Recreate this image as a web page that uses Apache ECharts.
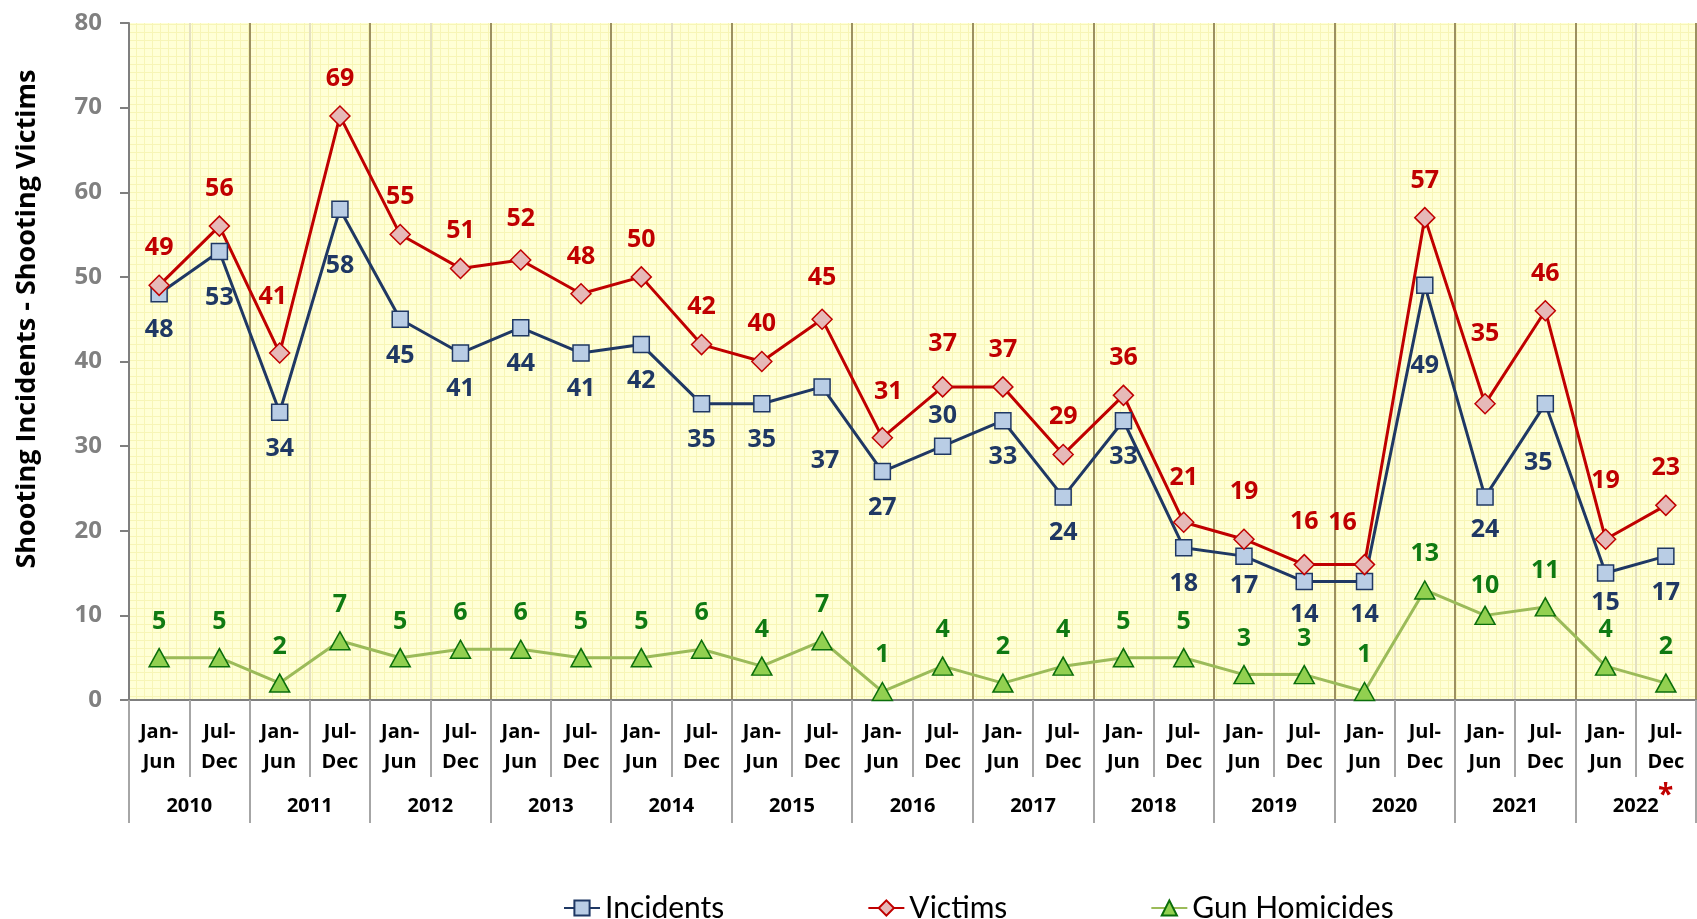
<!DOCTYPE html>
<html>
<head>
<meta charset="utf-8">
<script src="https://cdn.jsdelivr.net/npm/echarts@6/dist/echarts.min.js"></script>
<style>
html,body{margin:0;padding:0;background:#fff;}
#chart{width:1697px;height:919px;}
</style>
</head>
<body>
<div id="chart"></div>
<script>
const halves = ['Jan-\nJun','Jul-\nDec','Jan-\nJun','Jul-\nDec','Jan-\nJun','Jul-\nDec','Jan-\nJun','Jul-\nDec','Jan-\nJun','Jul-\nDec','Jan-\nJun','Jul-\nDec','Jan-\nJun','Jul-\nDec','Jan-\nJun','Jul-\nDec','Jan-\nJun','Jul-\nDec','Jan-\nJun','Jul-\nDec','Jan-\nJun','Jul-\nDec','Jan-\nJun','Jul-\nDec','Jan-\nJun','Jul-\nDec'];
const years = ['2010','2011','2012','2013','2014','2015','2016','2017','2018','2019','2020','2021','2022'];
const incidents = [48,53,34,58,45,41,44,41,42,35,35,37,27,30,33,24,33,18,17,14,14,49,24,35,15,17];
const victims = [49,56,41,69,55,51,52,48,50,42,40,45,31,37,37,29,36,21,19,16,16,57,35,46,19,23];
const gunHomicides = [5,5,2,7,5,6,6,5,5,6,4,7,1,4,2,4,5,5,3,3,1,13,10,11,4,2];
const yAxisTitle = 'Shooting Incidents - Shooting Victims';

// label layout tweaks (index -> [distance, dx, position])
const incLabelLayout = {1:[25,0],3:[35,0],11:[53,3],13:[9,0,'top'],18:[8,0],19:[12,0],20:[12,0],21:[59,0],22:[12,0],23:[38,-7],24:[9,0]};
const vicLabelLayout = {2:[33,-7],6:[18,0],11:[18,0],12:[23,6],13:[20,0],17:[21,0],18:[24,0],19:[19,0],20:[18,-22],22:[47,0],24:[35,0]};
const gunLabelLayout = {22:[7,0]};

const labelFont = {fontFamily:'Open Sans', fontWeight:'bold', fontSize:25};

function withLayout(values, layout, defDist, defPos){
  return values.map((v,i)=>{
    const l = layout[i] || [defDist,0];
    return {value:v, label:{distance:l[0], offset:[l[1],0], position:l[2]||defPos}};
  });
}

// background pattern
const pc = document.createElement('canvas');
pc.width = 8; pc.height = 8;
const ctx = pc.getContext('2d');
ctx.fillStyle = '#ffffd6'; ctx.fillRect(0,0,8,8);
ctx.fillStyle = '#f7f5b6'; ctx.fillRect(0,0,8,1); ctx.fillRect(0,0,1,8);

const chart = echarts.init(document.getElementById('chart'));
chart.setOption({
  animation:false,
  backgroundColor:'#ffffff',
  grid:{left:129,right:1,top:23,bottom:219,show:true,borderWidth:0,
        backgroundColor:{image:pc,repeat:'repeat'}},
  legend:{
    left:558, top:888,
    data:['Incidents','Victims','Gun Homicides'],
    itemGap:143, itemWidth:36, itemHeight:19,
    textStyle:{fontFamily:'Lato',fontSize:30,color:'#000'}
  },
  xAxis:[
    {type:'category',data:halves,position:'bottom',boundaryGap:true,
     axisLine:{show:true,lineStyle:{color:'#7f7f7f',width:2}},
     axisTick:{show:true,length:77,interval:0,lineStyle:{color:'#a6a6a6',width:2}},
     axisLabel:{interval:0,margin:17,color:'#000',fontFamily:'Open Sans',fontWeight:'bold',fontSize:20,lineHeight:30},
     splitLine:{show:true,interval:0,lineStyle:{color:'#e3dfc2',width:2}}},
    {type:'category',data:years,position:'bottom',boundaryGap:true,
     axisLine:{show:false},
     axisTick:{show:true,length:123,interval:0,lineStyle:{color:'#a6a6a6',width:2}},
     axisLabel:{interval:0,margin:96,color:'#000',fontFamily:'Open Sans',fontWeight:'bold',fontSize:20},
     splitLine:{show:true,interval:0,lineStyle:{color:'#9c9060',width:2}}}
  ],
  yAxis:{
    type:'value',min:0,max:80,interval:10,
    axisLine:{show:true,lineStyle:{color:'#7f7f7f',width:2}},
    axisTick:{show:true,length:9,lineStyle:{color:'#7f7f7f',width:2}},
    axisLabel:{margin:27,color:'#808080',fontFamily:'Open Sans',fontWeight:'bold',fontSize:24},
    splitLine:{show:false}
  },
  graphic:[
    {type:'text',x:27,y:319,rotation:Math.PI/2,
     style:{text:yAxisTitle,fill:'#000',font:'bold 27px "Open Sans"',align:'center',verticalAlign:'middle'}},
    {type:'text',left:1658,top:782,style:{text:'*',fill:'#c00000',font:'bold 28px "Open Sans"'}}
  ],
  series:[
    {name:'Incidents',type:'line',data:withLayout(incidents,incLabelLayout,15,'bottom'),
     symbol:'rect',symbolSize:16,
     lineStyle:{color:'#1f3864',width:3},
     itemStyle:{color:'#b9cde5',borderColor:'#1f3864',borderWidth:1.5},
     label:{show:true,color:'#1f3864',...labelFont}},
    {name:'Victims',type:'line',data:withLayout(victims,vicLabelLayout,14,'top'),
     symbol:'diamond',symbolSize:[20,20],
     lineStyle:{color:'#c00000',width:3},
     itemStyle:{color:'#e6b9b8',borderColor:'#c00000',borderWidth:1.5},
     label:{show:true,color:'#c00000',...labelFont}},
    {name:'Gun Homicides',type:'line',data:withLayout(gunHomicides,gunLabelLayout,14,'top'),
     symbol:'triangle',symbolSize:[20,18],
     lineStyle:{color:'#9bbb59',width:3},
     itemStyle:{color:'#92d050',borderColor:'#0a6e0a',borderWidth:1.5},
     label:{show:true,color:'#0f7a12',...labelFont}}
  ]
});
</script>
</body>
</html>
